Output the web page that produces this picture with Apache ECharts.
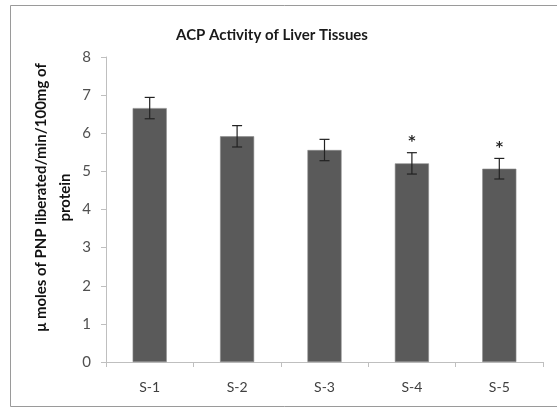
<!DOCTYPE html>
<html>
<head>
<meta charset="utf-8">
<script src="https://cdn.jsdelivr.net/npm/echarts@6/dist/echarts.min.js"></script>
<style>html,body{margin:0;padding:0;background:#fff;}#c{width:557px;height:409px;}</style>
</head>
<body>
<div id="c"></div>
<script>
var categories = ['S-1', 'S-2', 'S-3', 'S-4', 'S-5'];
var means = [6.66, 5.92, 5.56, 5.21, 5.07];
var errors = [0.28, 0.28, 0.28, 0.28, 0.27];
var marks = ['', '', '', '*', '*'];
var yTicks = [0, 1, 2, 3, 4, 5, 6, 7, 8];

var chart = echarts.init(document.getElementById('c'), null, {renderer: 'canvas'});
var font = 'Lato, "Open Sans", "Liberation Sans", sans-serif';

var errData = categories.map(function (c, i) {
  return [i, means[i] - errors[i], means[i] + errors[i], marks[i]];
});

chart.setOption({
  backgroundColor: '#ffffff',
  animation: false,
  title: {
    text: 'ACP Activity of Liver Tissues',
    left: 267, top: 23, textAlign: 'center',
    textStyle: {fontFamily: font, fontSize: 15, fontWeight: 'bold', color: '#1a1a1a'}
  },
  graphic: [{
    type: 'rect', shape: {x: 10.5, y: 5.5, width: 560, height: 401},
    style: {fill: 'none', stroke: '#9a9a9a', lineWidth: 1}, silent: true
  }],
  grid: {left: 106, right: 14, top: 57, bottom: 47},
  xAxis: {
    type: 'category', data: categories,
    axisLine: {lineStyle: {color: '#bfbfbf'}},
    axisTick: {show: true, length: 5, alignWithLabel: false, lineStyle: {color: '#bfbfbf'}},
    axisLabel: {fontFamily: font, fontSize: 14, color: '#404040', margin: 18}
  },
  yAxis: {
    type: 'value', min: yTicks[0], max: yTicks[yTicks.length - 1], interval: 1,
    name: 'μ moles of PNP liberated/min/100mg of\nprotein',
    nameLocation: 'middle', nameGap: 29, nameRotate: 90, nameMoveOverlap: false,
    nameTextStyle: {fontFamily: font, fontSize: 15, fontWeight: 'bold', color: '#111', lineHeight: 24, padding: [0, 0, 0, 24]},
    axisLine: {show: true, lineStyle: {color: '#bfbfbf'}},
    axisTick: {show: true, length: 5, lineStyle: {color: '#bfbfbf'}},
    splitLine: {show: false},
    axisLabel: {fontFamily: font, fontSize: 15, color: '#505050', margin: 15}
  },
  series: [{
    type: 'bar', data: means, barWidth: '39%',
    itemStyle: {color: '#5a5a5a', borderColor: '#8a8a8a', borderWidth: 0.6}
  }, {
    type: 'custom', data: errData, z: 5,
    renderItem: function (params, api) {
      var x = api.coord([api.value(0), 0])[0];
      var lo = api.coord([api.value(0), api.value(1)])[1];
      var hi = api.coord([api.value(0), api.value(2)])[1];
      var w = 5;
      var st = {stroke: '#222', lineWidth: 1.2};
      var children = [
        {type: 'line', shape: {x1: x, y1: lo, x2: x, y2: hi}, style: st},
        {type: 'line', shape: {x1: x - w, y1: hi, x2: x + w, y2: hi}, style: st},
        {type: 'line', shape: {x1: x - w, y1: lo, x2: x + w, y2: lo}, style: st}
      ];
      var m = errData[params.dataIndex][3];
      if (m) {
        children.push({type: 'text', x: x, y: hi - 11,
          style: {text: m, fontSize: 14, fontWeight: 'bold', fill: '#222', align: 'center', verticalAlign: 'middle', fontFamily: '"DejaVu Sans", sans-serif'}});
      }
      return {type: 'group', children: children};
    }
  }]
});
</script>
</body>
</html>
